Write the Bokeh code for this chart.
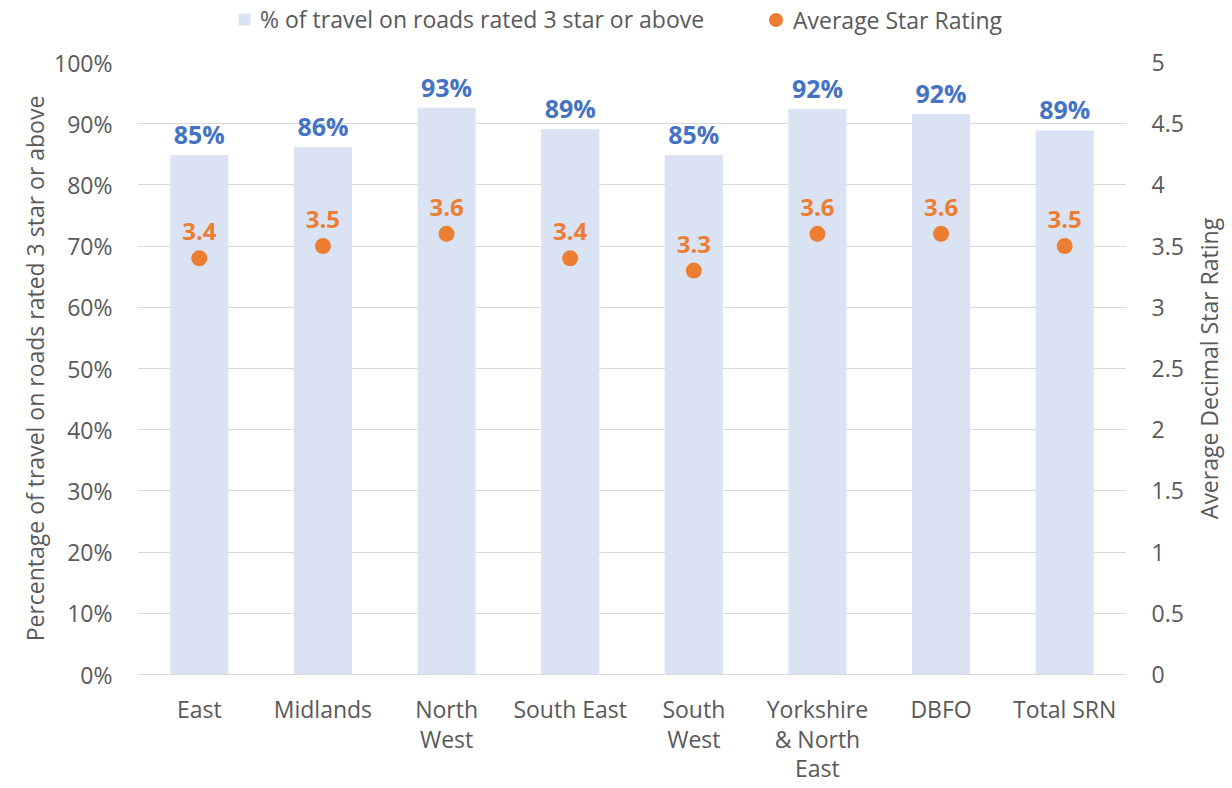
from bokeh.plotting import figure
from bokeh.layouts import column, row
from bokeh.models import (FactorRange, Range1d, LinearAxis, CategoricalAxis, Title,
                          FixedTicker, Legend, LegendItem, ColumnDataSource,
                          CustomJSTickFormatter)
from bokeh.core.properties import value
from bokeh.embed import file_html
from bokeh.resources import INLINE

categories = ["East", "Midlands", "North West", "South East", "South West",
              "Yorkshire & North East", "DBFO", "Total SRN"]
label_line1 = ["East", "Midlands", "North", "South East", "South", "Yorkshire", "DBFO", "Total SRN"]
label_line2 = ["", "", "West", "", "West", "& North", "", ""]
label_line3 = ["", "", "", "", "", "East", "", ""]
pct_3star = [84.9, 86.2, 92.6, 89.1, 84.9, 92.4, 91.6, 88.9]
avg_star = [3.4, 3.5, 3.6, 3.4, 3.3, 3.6, 3.6, 3.5]
left_ticks = [0, 10, 20, 30, 40, 50, 60, 70, 80, 90, 100]
right_ticks = [0, 0.5, 1, 1.5, 2, 2.5, 3, 3.5, 4, 4.5, 5]
bar_series_name = "% of travel on roads rated 3 star or above"
dot_series_name = "Average Star Rating"

FONT = "Open Sans"
GRAY = "#595959"
BAR = "#DAE3F3"
BLUE = "#4472C4"
ORANGE = "#ED7D31"
FS = "23px"

src = ColumnDataSource(dict(
    cat=categories,
    pct=pct_3star,
    pct_lbl=[f"{round(v)}%" for v in pct_3star],
    star=avg_star,
    star_lbl=[f"{v:.1f}" for v in avg_star],
))

def bare(fig):
    fig.outline_line_color = None
    fig.xgrid.grid_line_color = None
    fig.ygrid.grid_line_color = None
    return fig

# ---------------- legend strip ----------------
lg = bare(figure(width=1230, height=40, min_border=0, output_backend="svg",
                 toolbar_location=None, x_axis_location=None, y_axis_location=None,
                 x_range=FactorRange(*categories), y_range=Range1d(0, 1),
                 border_fill_color="white", background_fill_color="white"))
proxy_bar = lg.scatter(x="cat", y="pct", source=src, marker="square",
                       fill_color=BAR, line_color=None, visible=False)
proxy_dot = lg.scatter(x="cat", y="star", source=src, marker="circle",
                       fill_color=ORANGE, line_color=None, visible=False)
leg1 = Legend(items=[LegendItem(label=bar_series_name, renderers=[proxy_bar])],
              location=(229, 5), glyph_width=30, glyph_height=30, label_standoff=1)
leg2 = Legend(items=[LegendItem(label=dot_series_name, renderers=[proxy_dot])],
              location=(758, 3), glyph_width=35, glyph_height=35, label_standoff=0)
for lgd in (leg1, leg2):
    lgd.label_text_font = FONT
    lgd.label_text_font_size = FS
    lgd.label_text_color = GRAY
    lgd.border_line_color = None
    lgd.background_fill_alpha = 0
    lgd.inactive_fill_alpha = 0
    lgd.padding = 0
    lgd.margin = 0
    lg.add_layout(lgd, "center")

# ---------------- main chart ----------------
TOP, FRAME_H, BOTTOM = 22, 614, 110
p = figure(x_range=FactorRange(*categories, range_padding=0),
           y_range=Range1d(0, 100),
           width=1190, height=TOP + FRAME_H + BOTTOM,
           min_border_left=137, min_border_top=TOP, min_border_right=64,
           min_border_bottom=BOTTOM,
           output_backend="svg", toolbar_location=None, background_fill_color="white",
           border_fill_color="white")
p.outline_line_color = None
p.extra_y_ranges = {"star": Range1d(0, 5)}

bars = p.vbar(x="cat", top="pct", width=0.47, source=src, fill_color=BAR, line_color=None)
dots = p.scatter(x="cat", y="star", size=16, source=src, y_range_name="star",
                 fill_color=ORANGE, line_color=None)

p.text(x="cat", y="pct", text="pct_lbl", source=src, text_align="center",
       text_baseline="bottom", y_offset=-4, text_color=BLUE, text_font=value(FONT),
       text_font_size="25px", text_font_style="bold")
p.text(x="cat", y="star", text="star_lbl", source=src, y_range_name="star",
       text_align="center", text_baseline="bottom", y_offset=-18, text_color=ORANGE,
       text_font=value(FONT), text_font_size="24px", text_font_style="bold")

ya = p.yaxis[0]
ya.ticker = FixedTicker(ticks=left_ticks)
ya.formatter = CustomJSTickFormatter(code="return tick.toFixed(0) + '%'")
ya.axis_label = "Percentage of travel on roads rated 3 star or above"

ra = LinearAxis(y_range_name="star", ticker=FixedTicker(ticks=right_ticks),
                formatter=CustomJSTickFormatter(code="return String(tick)"))
p.add_layout(ra, "right")

for ax in [ya, ra]:
    ax.axis_line_color = None
    ax.major_tick_line_color = None
    ax.minor_tick_line_color = None
    ax.major_tick_out = 0
    ax.major_tick_in = 0
    ax.minor_tick_out = 0
    ax.major_label_text_font = FONT
    ax.major_label_text_font_size = FS
    ax.major_label_text_color = GRAY
    ax.major_label_standoff = 25
    ax.axis_label_text_font = FONT
    ax.axis_label_text_font_size = FS
    ax.axis_label_text_color = GRAY
    ax.axis_label_text_font_style = "normal"
    ax.axis_label_standoff = 0

xa = p.xaxis[0]
xa.axis_line_color = "#D9D9D9"
xaxes = [(xa, label_line1, 18)]
for lines, so in [(label_line2, -5), (label_line3, -6)]:
    ax2 = CategoricalAxis(axis_line_color=None)
    p.add_layout(ax2, "below")
    xaxes.append((ax2, lines, so))
for ax, lines, so in xaxes:
    ax.formatter = CustomJSTickFormatter(args=dict(labels=dict(zip(categories, lines))),
                                         code="return labels[tick]")
    ax.major_tick_line_color = None
    ax.minor_tick_line_color = None
    ax.major_tick_out = 0
    ax.major_tick_in = 0
    ax.minor_tick_out = 0
    ax.major_label_text_font = FONT
    ax.major_label_text_font_size = FS
    ax.major_label_text_color = GRAY
    ax.major_label_standoff = so

p.xgrid.grid_line_color = None
p.ygrid.grid_line_color = "#D9D9D9"
p.ygrid.ticker = FixedTicker(ticks=left_ticks)

# ---------------- right axis title strip ----------------
rt = bare(figure(width=40, height=TOP + FRAME_H + BOTTOM, min_border_left=0,
                 min_border_right=0, min_border_top=TOP, min_border_bottom=BOTTOM,
                 output_backend="svg", toolbar_location=None,
                 x_axis_location=None, y_axis_location=None,
                 x_range=Range1d(0, 1), y_range=Range1d(0, 1),
                 border_fill_color="white", background_fill_color="white"))
rt.add_layout(Title(text="Average Decimal Star Rating", align="center",
                    text_font=FONT, text_font_size=FS, text_color=GRAY,
                    text_font_style="normal", standoff=0), "left")

layout = column(lg, row(p, rt, spacing=0), spacing=0)
open("out.html", "w").write(file_html(layout, INLINE))
